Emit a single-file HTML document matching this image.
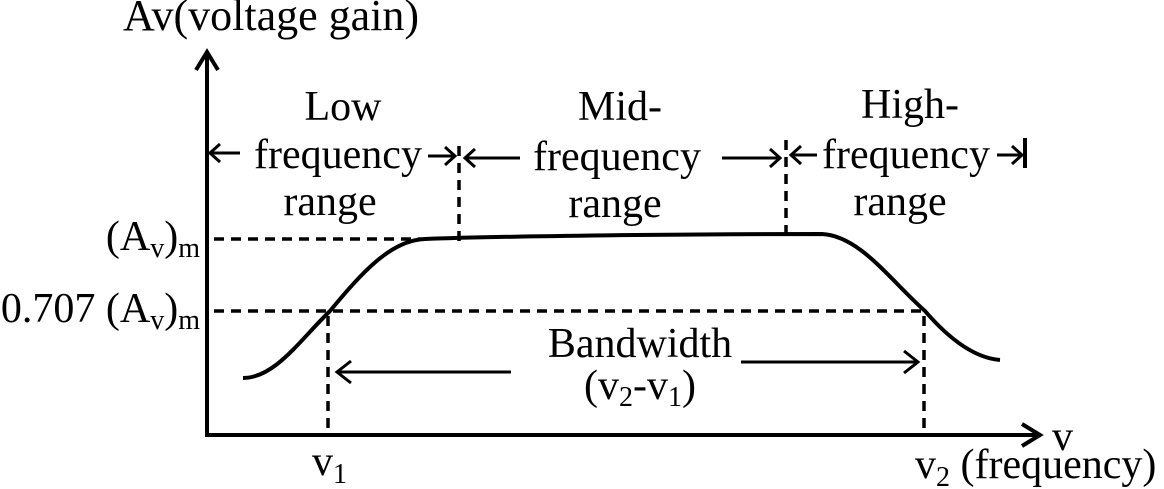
<!DOCTYPE html>
<html><head><meta charset="utf-8"><style>
html,body{margin:0;padding:0;background:#fff;}
svg{display:block}
text{font-family:"Liberation Serif",serif;fill:#000;}
</style></head><body>
<svg width="1164" height="489" viewBox="0 0 1164 489" xmlns="http://www.w3.org/2000/svg">
<g stroke="#000" fill="none">
<line x1="207" y1="437" x2="207" y2="52" stroke-width="4"/>
<polyline points="196,70 207,52 218,70" stroke-width="4"/>
<line x1="205" y1="435" x2="1038" y2="435" stroke-width="4"/>
<polyline points="1022,424 1040,435 1022,446" stroke-width="4"/>
<g stroke-width="3.5" stroke-dasharray="10,7">
<line x1="214" y1="239" x2="420" y2="239"/>
<line x1="214" y1="311" x2="925" y2="311"/>
<line x1="459" y1="146" x2="459" y2="244"/>
<line x1="786" y1="140" x2="786" y2="235"/>
<line x1="328" y1="316" x2="328" y2="435"/>
<line x1="924" y1="316" x2="924" y2="435"/>
</g>
<path d="M243,378 C275,378 300,340 330,311 C360,275 390,240 425,239 C500,236 700,234 822,234 C860,236 890,280 925,311 C950,340 975,358 1000,360" stroke-width="4"/>
<g stroke-width="3">
<line x1="210" y1="153" x2="240" y2="153"/><polyline points="220,144 210,153 220,162"/>
<line x1="428" y1="156" x2="455" y2="156"/><polyline points="445,147 455,156 445,165"/>
<line x1="465" y1="158" x2="520" y2="158"/><polyline points="475,149 465,158 475,167"/>
<line x1="722" y1="158" x2="780" y2="158"/><polyline points="770,149 780,158 770,167"/>
<line x1="791" y1="155" x2="817" y2="155"/><polyline points="801,146 791,155 801,164"/>
<line x1="997" y1="155" x2="1022" y2="155"/><polyline points="1012,146 1022,155 1012,164"/>
<line x1="1025" y1="138" x2="1025" y2="168" stroke-width="4"/>
<line x1="337" y1="372" x2="511" y2="372"/><polyline points="351,361 337,372 351,383"/>
<line x1="741" y1="362" x2="918" y2="362"/><polyline points="904,351 918,362 904,373"/>
</g>
</g>
<g font-size="42">
<text x="123" y="30" font-size="44">Av(voltage gain)</text>
<text x="343" y="120" text-anchor="middle">Low</text>
<text x="338" y="168" text-anchor="middle">frequency</text>
<text x="330" y="215" text-anchor="middle">range</text>
<text x="620" y="120" text-anchor="middle">Mid-</text>
<text x="617" y="170" text-anchor="middle">frequency</text>
<text x="615" y="217" text-anchor="middle">range</text>
<text x="910" y="118" text-anchor="middle">High-</text>
<text x="906" y="168" text-anchor="middle">frequency</text>
<text x="900" y="215" text-anchor="middle">range</text>
<text x="640" y="357" text-anchor="middle">Bandwidth</text>
<text x="640" y="399" text-anchor="middle">(v<tspan font-size="28" dy="7">2</tspan><tspan dy="-7">-v</tspan><tspan font-size="28" dy="7">1</tspan><tspan dy="-7">)</tspan></text>
<text x="200" y="250" text-anchor="end">(A<tspan font-size="28" dy="7">v</tspan><tspan dy="-7">)</tspan><tspan font-size="28" dy="7">m</tspan></text>
<text x="200" y="322" text-anchor="end">0.707 (A<tspan font-size="28" dy="7">v</tspan><tspan dy="-7">)</tspan><tspan font-size="28" dy="7">m</tspan></text>
<text x="312" y="475">v<tspan font-size="28" dy="8">1</tspan></text>
<text x="1052" y="450">v</text>
<text x="915" y="478">v<tspan font-size="28" dy="8">2</tspan><tspan dy="-8"> (frequency)</tspan></text>
</g>
</svg>
</body></html>
